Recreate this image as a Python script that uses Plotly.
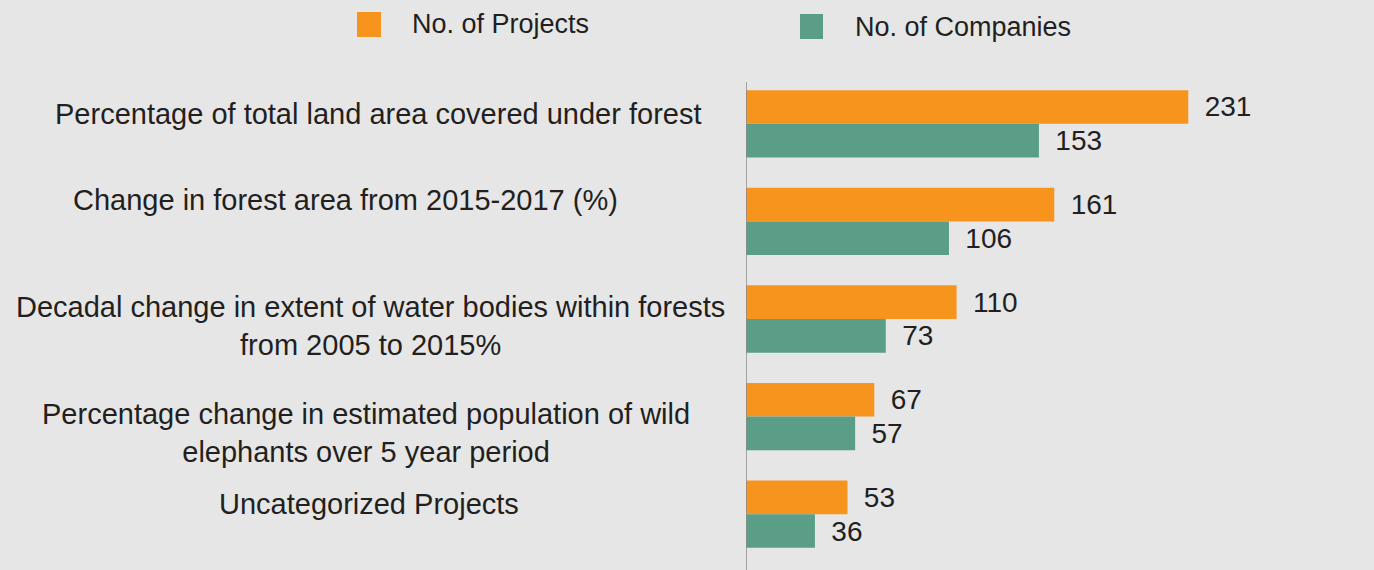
import plotly.graph_objects as go

categories = [
    "Percentage of total land area covered under forest",
    "Change in forest area from 2015-2017 (%)",
    "Decadal change in extent of water bodies within forests<br>from 2005 to 2015%",
    "Percentage change in estimated population of wild<br>elephants over 5 year period",
    "Uncategorized Projects",
]
projects = [231, 161, 110, 67, 53]
companies = [153, 106, 73, 57, 36]
series_names = ["No. of Projects", "No. of Companies"]

ORANGE = "#f7941e"
TEAL = "#5b9e87"
BG = "#e6e6e6"
INK = "#231f20"
FONT = "Liberation Sans, Arial, sans-serif"

W, H = 1374, 570
L, T, B = 746, 75, 7
PW, PH = W - L, H - T - B


def px(x):
    return (x - L) / PW


def py(y):
    return (H - B - y) / PH


fig = go.Figure()
for name, vals, col in [(series_names[0], projects, ORANGE),
                        (series_names[1], companies, TEAL)]:
    fig.add_trace(go.Bar(
        y=categories, x=vals, name=name, orientation="h",
        marker=dict(color=col, line=dict(width=0)),
        text=vals, texttemplate="\u00a0\u2009%{x}", textposition="outside",
        constraintext="none", cliponaxis=False,
        textfont=dict(size=28, color=INK, family=FONT),
        showlegend=False,
    ))

# category labels, centred in the left margin
shifts = [10, 21, -7, -16, 10]
label_x = [378, 345, 370, 366, 369]
for cat, s, lx in zip(categories, shifts, label_x):
    fig.add_annotation(x=px(lx), xref="paper", y=cat, yref="y", yshift=s,
                       text=cat, showarrow=False, xanchor="center",
                       align="center", font=dict(size=29, color=INK, family=FONT))

# legend drawn by hand
legend_items = [(series_names[0], ORANGE, 357, 381, 12, 37, 410, 24),
                (series_names[1], TEAL, 800, 823, 14, 39, 853, 27)]
for name, col, x0, x1, y0, y1, tx, ty in legend_items:
    fig.add_shape(type="rect", xref="paper", yref="paper",
                  x0=px(x0), x1=px(x1), y0=py(y1), y1=py(y0),
                  fillcolor=col, line=dict(width=0))
    fig.add_annotation(x=px(tx), y=py(ty), xref="paper", yref="paper",
                       text=name, showarrow=False, xanchor="left", yanchor="middle",
                       font=dict(size=27, color=INK, family=FONT))

# vertical axis line
fig.add_shape(type="line", xref="x", yref="paper", x0=0, x1=0,
              y0=py(570), y1=py(82), line=dict(color="#8c8c8c", width=1.5))

fig.update_layout(
    width=W, height=H,
    margin=dict(l=L, r=0, t=T, b=B),
    paper_bgcolor=BG, plot_bgcolor=BG,
    barmode="group", bargap=0.31, bargroupgap=0,
    font=dict(family=FONT, color=INK),
)
fig.update_xaxes(visible=False, range=[0, 328])
fig.update_yaxes(autorange="reversed", showticklabels=False, showgrid=False,
                 zeroline=False, showline=False)

fig.write_html("out.html", config={"displayModeBar": False},
               post_script="document.body.style.margin='0';"
               "document.body.style.background='#e6e6e6';")
